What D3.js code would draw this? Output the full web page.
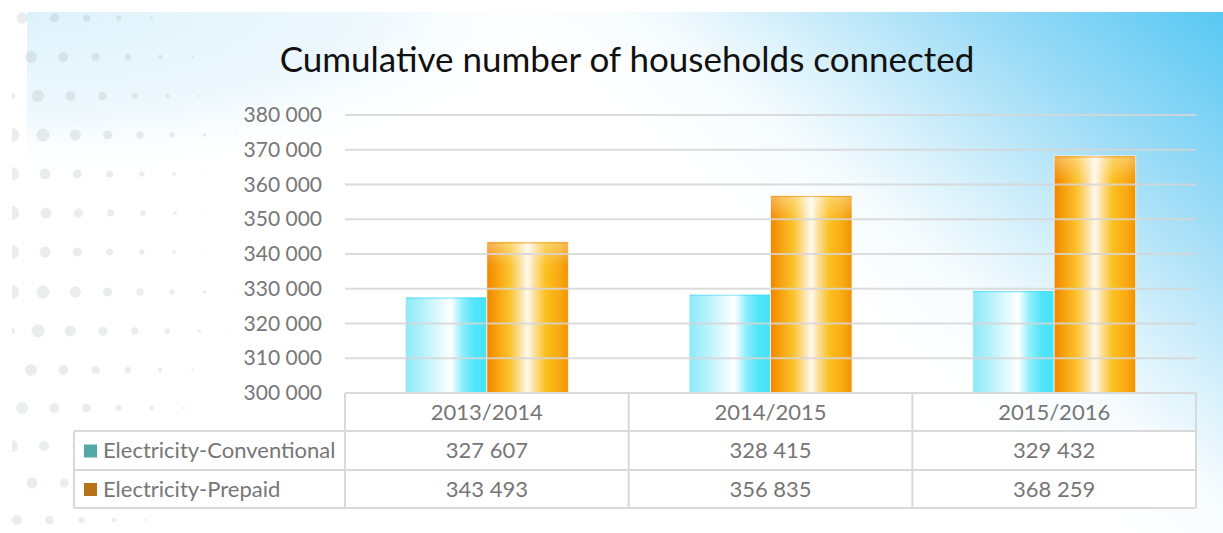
<!DOCTYPE html>
<html><head><meta charset="utf-8">
<script src="https://cdn.jsdelivr.net/npm/d3@7"></script>
<style>html,body{margin:0;padding:0;background:#fff;}svg{display:block;}</style>
</head><body>
<svg id="chart" width="1223" height="533"></svg>
<script>
// ---- data ----
const title = "Cumulative number of households connected";
const categories = ["2013/2014", "2014/2015", "2015/2016"];
const seriesNames = ["Electricity-Conventional", "Electricity-Prepaid"];
const conventional = [327607, 328415, 329432];
const prepaid = [343493, 356835, 368259];
const yTicks = [300000, 310000, 320000, 330000, 340000, 350000, 360000, 370000, 380000];
const legendColors = ["#56a8a8", "#b87118"];

const svg = d3.select("#chart");
const W = 1223, H = 533;
const defs = svg.append("defs");
const fmt = d3.formatLocale({decimal: ".", thousands: " ", grouping: [3], currency: ["", ""]}).format(",d");

// ---- background ----
const bg = defs.append("linearGradient").attr("id", "bgGrad")
  .attr("gradientUnits", "userSpaceOnUse")
  .attr("x1", 1223).attr("y1", 12).attr("x2", 800).attr("y2", 520);
[[0, "#58c8f2"], [0.25, "#9ddcf6"], [0.45, "#d8f1fb"], [0.56, "#f5fbfe"], [0.7, "#ffffff"], [1, "#ffffff"]]
  .forEach(([o, c]) => bg.append("stop").attr("offset", o).attr("stop-color", c));
const tl = defs.append("radialGradient").attr("id", "tlGrad")
  .attr("gradientUnits", "userSpaceOnUse").attr("cx", 27).attr("cy", 12).attr("r", 560)
  .attr("gradientTransform", "translate(27,12) scale(1,0.3) translate(-27,-12)");
[[0, "#def2fb", 1], [0.6, "#e6f5fc", 0.7], [1, "#ffffff", 0]]
  .forEach(([o, c, a]) => tl.append("stop").attr("offset", o).attr("stop-color", c).attr("stop-opacity", a));

svg.append("rect").attr("x", 27).attr("y", 12).attr("width", W - 27).attr("height", H - 12).attr("fill", "url(#bgGrad)");
svg.append("rect").attr("x", 27).attr("y", 12).attr("width", 620).attr("height", 200).attr("fill", "url(#tlGrad)");

// decorative dot pattern (left side)
defs.append("clipPath").attr("id", "dotClip").append("rect").attr("x", 12).attr("y", 0).attr("width", 400).attr("height", H);
const dotRows = [
  {y: 18, x0: 22, r0: 5.5}, {y: 57, x0: 31, r0: 6}, {y: 96, x0: 38, r0: 6, half: 3},
  {y: 135, x0: 43, r0: 6.5, half: 7}, {y: 174, x0: 45, r0: 5.5, half: 7}, {y: 213, x0: 46, r0: 5.5, half: 7},
  {y: 252, x0: 45, r0: 5.5, half: 7}, {y: 292, x0: 43, r0: 6.5, half: 7}, {y: 331, x0: 38, r0: 6.5, half: 3},
  {y: 370, x0: 31, r0: 6}, {y: 408, x0: 22, r0: 6}, {y: 446, x0: 44, r0: 5, half: 6},
  {y: 483, x0: 32, r0: 5.5}, {y: 520, x0: 17, r0: 5}
];
const dots = [];
dotRows.forEach(row => {
  if (row.half) dots.push({x: 12, y: row.y, r: row.half});
  for (let k = 0; k < 9; k++) {
    const r = row.r0 - 0.95 * k;
    if (r < 0.7) break;
    dots.push({x: row.x0 + 32.3 * k, y: row.y, r: r});
  }
});
svg.append("g").attr("clip-path", "url(#dotClip)").selectAll("circle").data(dots).join("circle")
  .attr("cx", d => d.x).attr("cy", d => d.y).attr("r", d => d.r)
  .attr("fill", "#8f9499").attr("fill-opacity", 0.18);

// ---- scales ----
const x = d3.scaleBand().domain(categories).range([345, 1196]);
const y = d3.scaleLinear().domain([300000, 380000]).range([393, 115]);
const xs = d3.scaleBand().domain([0, 1]).range([0, x.bandwidth()]).paddingInner(0).paddingOuter(0.74);

// ---- title ----
svg.append("text").attr("x", 627).attr("y", 72).attr("text-anchor", "middle")
  .attr("font-family", "Lato, sans-serif").attr("font-size", 35).attr("fill", "#111").text(title);

// ---- bar gradients ----
const cg = defs.append("linearGradient").attr("id", "cyanGrad").attr("x1", 0).attr("x2", 1).attr("y1", 0).attr("y2", 0);
[[0, "#8ee8f9"], [0.2, "#b2f1fb"], [0.42, "#e2fafe"], [0.56, "#ffffff"], [0.7, "#8eeefc"], [0.85, "#4fe6fa"], [1, "#46e2f8"]]
  .forEach(([o, c]) => cg.append("stop").attr("offset", o).attr("stop-color", c));
const og = defs.append("linearGradient").attr("id", "orangeGrad").attr("x1", 0).attr("x2", 1).attr("y1", 0).attr("y2", 0);
[[0, "#f08500"], [0.12, "#f7a10f"], [0.28, "#fbc22c"], [0.42, "#fde2a8"], [0.5, "#fffaf0"], [0.58, "#fde0a0"], [0.72, "#fbc020"], [0.9, "#f8a810"], [1, "#f39000"]]
  .forEach(([o, c]) => og.append("stop").attr("offset", o).attr("stop-color", c));
const topG = defs.append("linearGradient").attr("id", "topGrad").attr("x1", 0).attr("x2", 0).attr("y1", 0).attr("y2", 1);
[[0, 0.35], [1, 0]].forEach(([o, a]) => topG.append("stop").attr("offset", o).attr("stop-color", "#ffffff").attr("stop-opacity", a));

const barData = [];
categories.forEach((c, i) => {
  barData.push({cat: c, s: 0, v: conventional[i]});
  barData.push({cat: c, s: 1, v: prepaid[i]});
});
const bars = svg.append("g");
bars.selectAll("rect.bar").data(barData).join("rect").attr("class", "bar")
  .attr("x", d => x(d.cat) + xs(d.s)).attr("width", xs.bandwidth())
  .attr("y", d => y(d.v)).attr("height", d => y(300000) - y(d.v))
  .attr("fill", d => d.s === 0 ? "url(#cyanGrad)" : "url(#orangeGrad)")
  .attr("stroke", "#ffffff").attr("stroke-opacity", 0.7).attr("stroke-width", 1);
bars.selectAll("rect.top").data(barData.filter(d => d.s === 1)).join("rect").attr("class", "top")
  .attr("x", d => x(d.cat) + xs(d.s) + 0.5).attr("width", xs.bandwidth() - 1)
  .attr("y", d => y(d.v) + 0.5).attr("height", 24).attr("fill", "url(#topGrad)");
bars.selectAll("line.cap").data(barData).join("line").attr("class", "cap")
  .attr("x1", d => x(d.cat) + xs(d.s) + 1).attr("x2", d => x(d.cat) + xs(d.s) + xs.bandwidth() - 1)
  .attr("y1", d => y(d.v) + 1).attr("y2", d => y(d.v) + 1)
  .attr("stroke", d => d.s === 0 ? "#3fd6f2" : "#ef8a00").attr("stroke-width", 1.2).attr("stroke-opacity", 0.6);

// ---- gridlines (drawn above bars) ----
svg.append("g").selectAll("line").data(yTicks.slice(1)).join("line")
  .attr("x1", 345).attr("x2", 1196).attr("y1", d => y(d)).attr("y2", d => y(d))
  .attr("stroke", "#d6d6d6").attr("stroke-opacity", 0.85).attr("stroke-width", 2);

// ---- y axis ----
const yAxis = svg.append("g").attr("transform", "translate(345,0)")
  .call(d3.axisLeft(y).tickValues(yTicks).tickFormat(fmt).tickSize(0).tickPadding(23));
yAxis.select(".domain").remove();
yAxis.selectAll("text").attr("font-family", "Lato, sans-serif").attr("font-size", 21).attr("fill", "#777");

// ---- data table ----
const rowY = [393, 431, 470, 508];
const tbl = svg.append("g");
tbl.append("rect").attr("x", 74).attr("y", rowY[1]).attr("width", 1196 - 74).attr("height", rowY[3] - rowY[1]).attr("fill", "#fff");
const lineC = "#d9d9d9";
tbl.append("line").attr("x1", 345).attr("x2", 1196).attr("y1", rowY[0]).attr("y2", rowY[0]).attr("stroke", lineC).attr("stroke-width", 2);
[rowY[1], rowY[2], rowY[3]].forEach(yy => tbl.append("line").attr("x1", 74).attr("x2", 1196).attr("y1", yy).attr("y2", yy).attr("stroke", lineC).attr("stroke-width", 2));
const vx = categories.map(c => x(c)).concat([x.range()[1]]);
vx.forEach(xx => tbl.append("line").attr("x1", xx).attr("x2", xx).attr("y1", rowY[0]).attr("y2", rowY[3]).attr("stroke", lineC).attr("stroke-width", 2));
tbl.append("line").attr("x1", 74).attr("x2", 74).attr("y1", rowY[1]).attr("y2", rowY[3]).attr("stroke", lineC).attr("stroke-width", 2);

const tFont = {"font-family": "Lato, sans-serif", "font-size": 22, "fill": "#767676"};
function styleT(sel) { Object.entries(tFont).forEach(([k, v]) => sel.attr(k, v)); return sel; }
styleT(tbl.selectAll("text.hdr").data(categories).join("text").attr("class", "hdr")
  .attr("x", d => x(d) + x.bandwidth() / 2).attr("y", (rowY[0] + rowY[1]) / 2).attr("dy", "0.36em")
  .attr("text-anchor", "middle").text(d => d));
[conventional, prepaid].forEach((vals, r) => {
  const cy = (rowY[r + 1] + rowY[r + 2]) / 2;
  styleT(tbl.selectAll("text.v" + r).data(vals).join("text").attr("class", "v" + r)
    .attr("x", (d, i) => x(categories[i]) + x.bandwidth() / 2).attr("y", cy).attr("dy", "0.36em")
    .attr("text-anchor", "middle").text(d => fmt(d)));
  tbl.append("rect").attr("x", 84).attr("y", cy - 6).attr("width", 13).attr("height", 13).attr("fill", legendColors[r]);
  styleT(tbl.append("text").attr("x", 103).attr("y", cy).attr("dy", "0.36em").text(seriesNames[r]));
});
</script>
</body></html>
